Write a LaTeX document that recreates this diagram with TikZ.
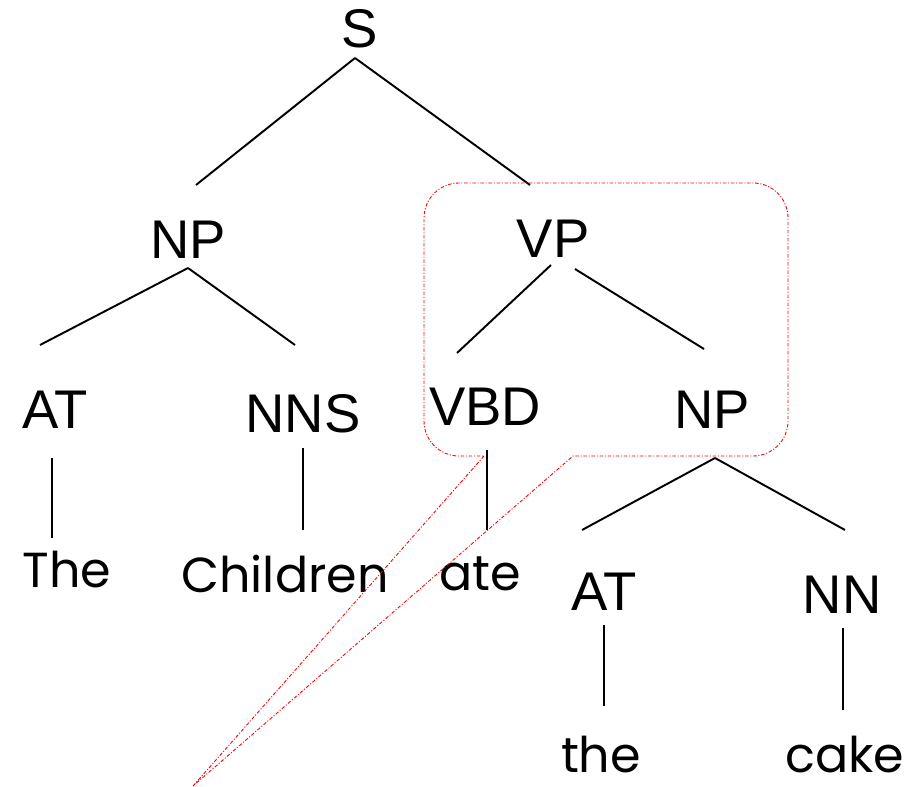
\documentclass[tikz,border=0pt]{standalone}
\usepackage{fontspec}
\setmainfont{Liberation Sans}
\newfontfamily\wordfont{Poppins}
\usetikzlibrary{calc}

\begin{document}
\begin{tikzpicture}[
    x=0.02cm, y=0.02cm,
    cat/.style={anchor=base, inner sep=0pt, font=\fontsize{31}{36}\selectfont},
    word/.style={anchor=base, inner sep=0pt, font=\wordfont\fontsize{28}{33}\selectfont},
    branch/.style={line width=1.1pt},
    callout/.style={red, line width=0.5pt, dash pattern=on 2pt off 1pt on 0.6pt off 1pt}
]
    \useasboundingbox (0,0) rectangle (909,-787);

    % categories
    \node[cat] (s) at (360,-48) {S};
    \node[cat] (np1) at (188,-258) {NP};
    \node[cat] (vp) at (553,-257) {VP};
    \node[cat] (at1) at (55,-428) {AT};
    \node[cat] (nns) at (303,-432) {NNS};
    \node[cat] (vbd) at (485,-425) {VBD};
    \node[cat] (np2) at (712,-428) {NP};
    \node[cat] (at2) at (604,-610) {AT};
    \node[cat] (nn) at (842,-613) {NN};

    % words
    \node[word] (w1) at (67,-587) {The};
    \node[word] (w2) at (285,-592) {Children};
    \node[word] (w3) at (480,-590) {ate};
    \node[word] (w4) at (601,-772) {the};
    \node[word] (w5) at (845,-772) {cake};

    % branches
    \draw[branch] ($(s.base)+(-5,-10)$) -- ($(np1.base)+(8,73)$);
    \draw[branch] ($(s.base)+(-5,-10)$) -- ($(vp.base)+(-23,72)$);
    \draw[branch] ($(np1.base)+(0,-10)$) -- ($(at1.base)+(-15,83)$);
    \draw[branch] ($(np1.base)+(0,-10)$) -- ($(nns.base)+(-8,87)$);
    \draw[branch] ($(vp.base)+(-2,-8)$) -- ($(vbd.base)+(-28,72)$);
    \draw[branch] ($(vp.base)+(22,-12)$) -- ($(np2.base)+(-8,79)$);
    \draw[branch] ($(np2.base)+(3,-30)$) -- ($(at2.base)+(-22,80)$);
    \draw[branch] ($(np2.base)+(3,-30)$) -- ($(nn.base)+(3,83)$);

    \draw[branch] ($(at1.base)+(-3,-30)$) -- ($(w1.base)+(-15,49)$);
    \draw[branch] ($(nns.base)+(0,-16)$) -- ($(w2.base)+(18,62)$);
    \draw[branch] ($(vbd.base)+(2,-25)$) -- ($(w3.base)+(7,60)$);
    \draw[branch] ($(at2.base)+(0,-15)$) -- ($(w4.base)+(3,66)$);
    \draw[branch] ($(nn.base)+(1,-15)$) -- ($(w5.base)+(-2,62)$);

    % callout round the VP
    \draw[callout] (484,-456) -- (193,-786) -- (573,-456)
        [rounded corners=0.7cm] -- (788,-456) -- (788,-183) -- (424,-183) -- (424,-456)
        [sharp corners] -- cycle;
\end{tikzpicture}
\end{document}
